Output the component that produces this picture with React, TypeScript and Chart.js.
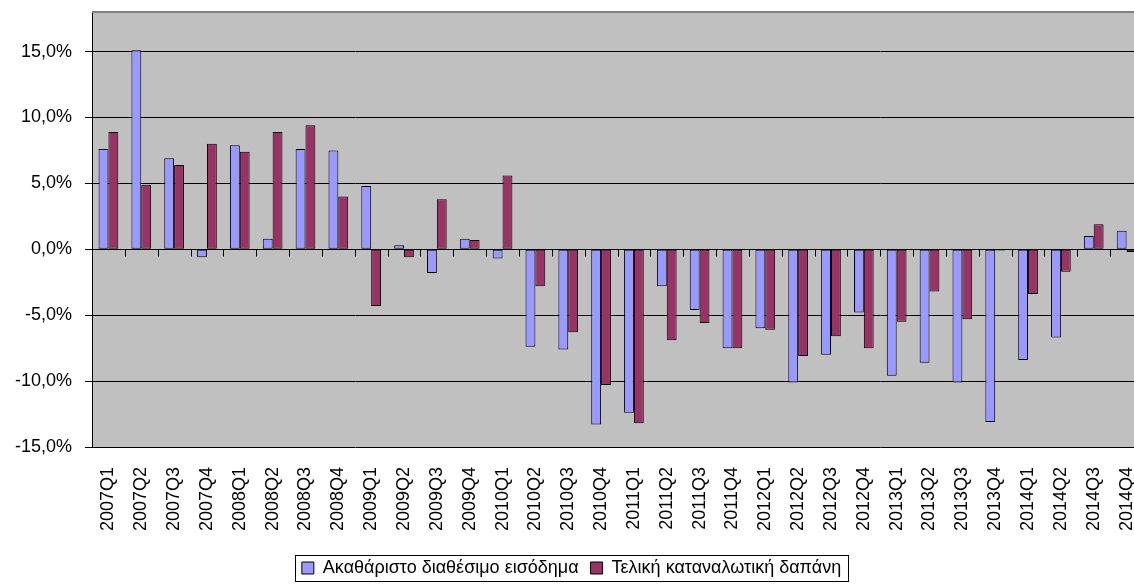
import React, { useEffect, useRef } from "react";
import { Chart, registerables } from "chart.js";

Chart.register(...registerables);

const categories = [
  "2007Q1", "2007Q2", "2007Q3", "2007Q4",
  "2008Q1", "2008Q2", "2008Q3", "2008Q4",
  "2009Q1", "2009Q2", "2009Q3", "2009Q4",
  "2010Q1", "2010Q2", "2010Q3", "2010Q4",
  "2011Q1", "2011Q2", "2011Q3", "2011Q4",
  "2012Q1", "2012Q2", "2012Q3", "2012Q4",
  "2013Q1", "2013Q2", "2013Q3", "2013Q4",
  "2014Q1", "2014Q2", "2014Q3", "2014Q4",
];

const incomeLabel = "Ακαθάριστο διαθέσιμο εισόδημα";
const incomeValues = [
  7.6, 15.1, 6.9, -0.6,
  7.9, 0.8, 7.6, 7.5,
  4.8, 0.3, -1.8, 0.8,
  -0.7, -7.4, -7.6, -13.3,
  -12.4, -2.8, -4.6, -7.5,
  -6.0, -10.1, -8.0, -4.8,
  -9.6, -8.6, -10.1, -13.1,
  -8.4, -6.7, 1.0, 1.4,
];

const consumptionLabel = "Τελική καταναλωτική δαπάνη";
const consumptionValues = [
  8.9, 4.9, 6.4, 8.0,
  7.4, 8.9, 9.4, 4.0,
  -4.3, -0.6, 3.8, 0.7,
  5.6, -2.8, -6.3, -10.3,
  -13.2, -6.9, -5.6, -7.5,
  -6.1, -8.1, -6.6, -7.5,
  -5.5, -3.2, -5.3, -0.1,
  -3.4, -1.7, 1.9, -0.2,
];

const yTickValues = [-15, -10, -5, 0, 5, 10, 15];

const CANVAS_W = 1172;
const CANVAS_H = 587;
const PLOT_RIGHT = 1143;
const FONT = "'Liberation Sans', Arial, sans-serif";

export default function App() {
  const ref = useRef<HTMLCanvasElement>(null);

  useEffect(() => {
    const canvas = ref.current;
    if (!canvas) return;

    const decoPlugin = {
      id: "deco",
      beforeDraw(chart: any) {
        const { ctx, chartArea: a } = chart;
        ctx.save();
        ctx.fillStyle = "#C0C0C0";
        ctx.fillRect(a.left, a.top, a.right - a.left, a.bottom - a.top);
        ctx.restore();
      },
      afterDraw(chart: any) {
        const { ctx, chartArea: a, scales } = chart;
        const xs = scales.x;
        const ys = scales.y;
        const y0 = Math.round(ys.getPixelForValue(0)) + 0.5;
        ctx.save();
        ctx.strokeStyle = "#000";
        ctx.lineWidth = 1;
        ctx.beginPath();
        for (let i = 1; i < categories.length; i++) {
          const bx =
            Math.round((xs.getPixelForValue(i - 1) + xs.getPixelForValue(i)) / 2) + 0.5;
          ctx.moveTo(bx, y0);
          ctx.lineTo(bx, y0 + 7);
        }
        ctx.stroke();

        ctx.strokeStyle = "#808080";
        ctx.lineWidth = 2;
        ctx.beginPath();
        ctx.moveTo(a.left, a.top);
        ctx.lineTo(a.right, a.top);
        ctx.stroke();

        const lg = chart.legend;
        if (lg && lg.legendHitBoxes && lg.legendHitBoxes.length) {
          const hb = lg.legendHitBoxes;
          const l = Math.min(...hb.map((h: any) => h.left));
          const r = Math.max(...hb.map((h: any) => h.left + h.width));
          const t = Math.min(...hb.map((h: any) => h.top));
          const b = Math.max(...hb.map((h: any) => h.top + h.height));
          ctx.strokeStyle = "#000";
          ctx.lineWidth = 1;
          ctx.strokeRect(
            Math.round(l - 7) + 0.5,
            Math.round(t - 4) + 0.5,
            Math.round(r - l + 14),
            Math.round(b - t + 8)
          );
        }
        ctx.restore();
      },
    };

    const chart = new Chart(canvas, {
      type: "bar",
      data: {
        labels: categories,
        datasets: [
          {
            label: incomeLabel,
            data: incomeValues,
            backgroundColor: "#9999FF",
            borderColor: "#000000",
            borderWidth: 1,
            borderSkipped: false,
            categoryPercentage: 0.6,
            barPercentage: 1.0,
          },
          {
            label: consumptionLabel,
            data: consumptionValues,
            backgroundColor: "#993366",
            borderColor: "#000000",
            borderWidth: 1,
            borderSkipped: false,
            categoryPercentage: 0.6,
            barPercentage: 1.0,
          },
        ],
      },
      options: {
        responsive: false,
        animation: false,
        devicePixelRatio: 1,
        layout: { padding: { top: 12, right: CANVAS_W - PLOT_RIGHT, bottom: 0, left: 0 } },
        plugins: {
          legend: {
            position: "bottom",
            labels: {
              font: { family: FONT, size: 18 },
              color: "#000",
              boxWidth: 12,
              boxHeight: 12,
              padding: 12,
            },
          },
          tooltip: { enabled: false },
        },
        scales: {
          x: {
            grid: { display: false, drawTicks: false },
            border: { display: false },
            ticks: {
              autoSkip: false,
              maxRotation: 90,
              minRotation: 90,
              padding: 20,
              font: { family: FONT, size: 18 },
              color: "#000",
            },
            afterFit(s: any) {
              s.height = 100;
              s.paddingLeft = 0;
              s.paddingRight = 0;
            },
          },
          y: {
            min: -15,
            max: 18,
            afterBuildTicks(s: any) {
              s.ticks = yTickValues.map((v) => ({ value: v }));
            },
            grid: { color: "#000", lineWidth: 1, tickLength: 7 },
            border: { color: "#000", width: 1 },
            ticks: {
              padding: 13,
              font: { family: FONT, size: 18 },
              color: "#000",
              callback: (v: any) => Number(v).toFixed(1).replace(".", ",") + "%",
            },
            afterFit(s: any) {
              s.width = 92;
              s.paddingTop = 0;
              s.paddingBottom = 0;
            },
          },
        },
      },
      plugins: [decoPlugin],
    } as any);

    return () => chart.destroy();
  }, []);

  return (
    <div
      style={{
        position: "fixed",
        left: 0,
        top: 0,
        width: 1134,
        height: 587,
        overflow: "hidden",
        background: "#fff",
      }}
    >
      <canvas
        ref={ref}
        width={CANVAS_W}
        height={CANVAS_H}
        style={{ display: "block", width: CANVAS_W, height: CANVAS_H }}
      />
    </div>
  );
}
